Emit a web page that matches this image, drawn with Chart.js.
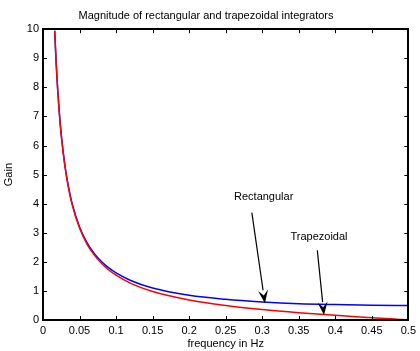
<!DOCTYPE html>
<html>
<head>
<meta charset="utf-8">
<script src="https://cdn.jsdelivr.net/npm/chart.js@4.4.0/dist/chart.umd.min.js"></script>
<style>
  html, body { margin: 0; padding: 0; background: #ffffff; }
  canvas { display: block; }
</style>
</head>
<body>
<canvas id="gainChart" width="420" height="351"></canvas>
<script>
// values
const freq = [0.016, 0.018, 0.02, 0.0225, 0.025, 0.03, 0.035, 0.04, 0.05, 0.06, 0.07, 0.08, 0.09, 0.1, 0.12, 0.15, 0.2, 0.25, 0.3, 0.35, 0.4, 0.45, 0.5];
const rectangular = [9.95, 8.85, 7.96, 7.08, 6.37, 5.31, 4.56, 3.99, 3.20, 2.67, 2.29, 2.01, 1.79, 1.62, 1.36, 1.10, 0.85, 0.71, 0.62, 0.56, 0.53, 0.51, 0.50];
const trapezoidal = [9.94, 8.83, 7.95, 7.06, 6.35, 5.29, 4.53, 3.96, 3.16, 2.62, 2.24, 1.95, 1.72, 1.54, 1.26, 0.98, 0.69, 0.50, 0.36, 0.25, 0.16, 0.08, 0.0];
const xTicks = [0, 0.05, 0.1, 0.15, 0.2, 0.25, 0.3, 0.35, 0.4, 0.45, 0.5];
const yTicks = [0, 1, 2, 3, 4, 5, 6, 7, 8, 9, 10];

// labels with arrows: text position, arrow start, arrow tip (data units)
const notes = [
    { text: 'Rectangular', tx: 0.302, ty: 4.24, x0: 0.2858, y0: 3.69, x1: 0.3037, y1: 0.58 },
    { text: 'Trapezoidal', tx: 0.3777, ty: 2.86, x0: 0.3754, y0: 2.40, x1: 0.3845, y1: 0.17 }
];

const FONT = '"Liberation Sans", Arial, sans-serif';

// box round the plot with inward ticks on all sides
const framePlugin = {
    id: 'frame',
    afterDraw(chart) {
        const { ctx, chartArea: a, scales } = chart;
        ctx.save();
        ctx.strokeStyle = '#000000';
        ctx.lineWidth = 2;
        ctx.strokeRect(Math.round(a.left), Math.round(a.top),
            Math.round(a.right - a.left), Math.round(a.bottom - a.top));
        const len = 4;
        ctx.lineWidth = 1;
        ctx.beginPath();
        xTicks.forEach(v => {
            const px = Math.round(scales.x.getPixelForValue(v)) + 0.5;
            ctx.moveTo(px, a.bottom); ctx.lineTo(px, a.bottom - len);
            ctx.moveTo(px, a.top); ctx.lineTo(px, a.top + len);
        });
        yTicks.forEach(v => {
            const py = Math.round(scales.y.getPixelForValue(v)) + 0.5;
            ctx.moveTo(a.left, py); ctx.lineTo(a.left + len, py);
            ctx.moveTo(a.right, py); ctx.lineTo(a.right - len, py);
        });
        ctx.stroke();
        ctx.restore();
    }
};

const notesPlugin = {
    id: 'notes',
    afterDatasetsDraw(chart) {
        const { ctx, scales } = chart;
        ctx.save();
        ctx.fillStyle = '#000000';
        ctx.strokeStyle = '#000000';
        ctx.lineWidth = 1.2;
        ctx.font = '11px ' + FONT;
        ctx.textAlign = 'center';
        ctx.textBaseline = 'middle';
        notes.forEach(n => {
            ctx.fillText(n.text, scales.x.getPixelForValue(n.tx), scales.y.getPixelForValue(n.ty));
            const sx = scales.x.getPixelForValue(n.x0), sy = scales.y.getPixelForValue(n.y0);
            const ex = scales.x.getPixelForValue(n.x1), ey = scales.y.getPixelForValue(n.y1);
            const ang = Math.atan2(ey - sy, ex - sx);
            const head = 13, half = 5;
            const bx = ex - head * Math.cos(ang), by = ey - head * Math.sin(ang);
            ctx.beginPath();
            ctx.moveTo(sx, sy);
            ctx.lineTo(bx, by);
            ctx.stroke();
            ctx.beginPath();
            ctx.moveTo(ex, ey);
            ctx.lineTo(bx + half * Math.sin(ang), by - half * Math.cos(ang));
            ctx.lineTo(ex - 0.6 * head * Math.cos(ang), ey - 0.6 * head * Math.sin(ang));
            ctx.lineTo(bx - half * Math.sin(ang), by + half * Math.cos(ang));
            ctx.closePath();
            ctx.fill();
        });
        ctx.restore();
    }
};

new Chart(document.getElementById('gainChart'), {
    type: 'line',
    data: {
        datasets: [
            {
                label: 'Trapezoidal',
                data: freq.map((f, i) => ({ x: f, y: trapezoidal[i] })),
                borderColor: '#ff0000',
                borderWidth: 1.5,
                pointRadius: 0,
                fill: false,
                cubicInterpolationMode: 'monotone'
            },
            {
                label: 'Rectangular',
                data: freq.map((f, i) => ({ x: f, y: rectangular[i] })),
                borderColor: '#0000ff',
                borderWidth: 1.5,
                pointRadius: 0,
                fill: false,
                cubicInterpolationMode: 'monotone'
            }
        ]
    },
    options: {
        responsive: false,
        animation: false,
        layout: { padding: { left: 0, right: 8, top: 0, bottom: 0 } },
        scales: {
            x: {
                type: 'linear',
                min: 0,
                max: 0.5,
                afterBuildTicks: s => { s.ticks = xTicks.map(v => ({ value: v })); },
                afterFit: s => { s.height = 31; },
                grid: { display: false, drawTicks: false },
                border: { display: false },
                ticks: {
                    color: '#000000',
                    font: { family: FONT, size: 11 },
                    padding: 4,
                    maxRotation: 0,
                    autoSkip: false,
                    callback: v => String(v)
                },
                title: {
                    display: true,
                    text: 'frequency in Hz',
                    color: '#000000',
                    font: { family: FONT, size: 11 },
                    padding: { top: 0, bottom: 0 }
                }
            },
            y: {
                type: 'linear',
                min: 0,
                max: 10,
                afterBuildTicks: s => { s.ticks = yTicks.map(v => ({ value: v })); },
                afterFit: s => { s.width = 43; },
                grid: { display: false, drawTicks: false },
                border: { display: false },
                ticks: {
                    color: '#000000',
                    font: { family: FONT, size: 11 },
                    padding: 4,
                    autoSkip: false
                },
                title: {
                    display: true,
                    text: 'Gain',
                    color: '#000000',
                    font: { family: FONT, size: 11 },
                    padding: { top: 2, bottom: 0 }
                }
            }
        },
        plugins: {
            legend: { display: false },
            tooltip: { enabled: false },
            title: {
                display: true,
                text: 'Magnitude of rectangular and trapezoidal integrators',
                color: '#000000',
                font: { family: FONT, size: 11, weight: 'normal' },
                padding: { top: 9, bottom: 7 }
            }
        }
    },
    plugins: [framePlugin, notesPlugin]
});
</script>
</body>
</html>
